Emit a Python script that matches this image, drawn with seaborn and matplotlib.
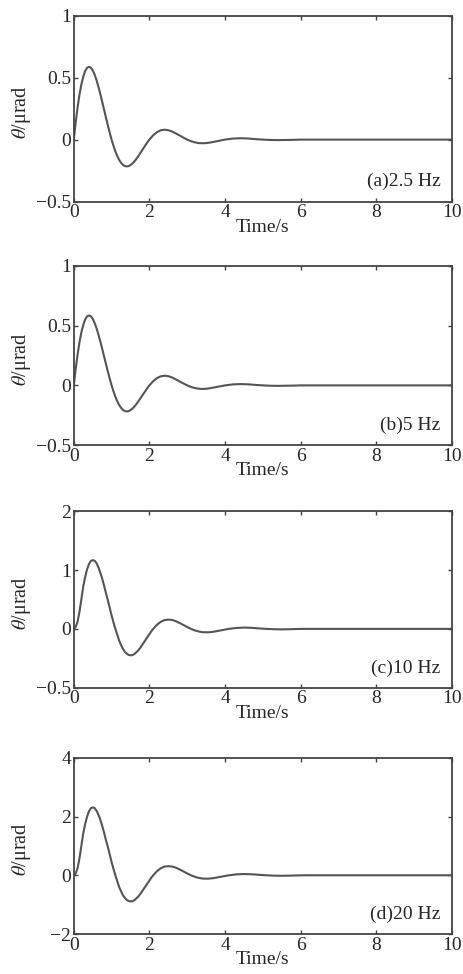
import matplotlib
matplotlib.use("Agg")
import matplotlib.pyplot as plt
import seaborn as sns

sns.set_style("ticks")
plt.rcParams['font.family'] = ['Liberation Serif', 'DejaVu Serif']
plt.rcParams['mathtext.fontset'] = 'stix'

# -------------------------------
# Data
# -------------------------------
# panels (a) and (b): fine steps over the first swing, coarser afterwards
t_ab = [0.0, 0.05, 0.1, 0.15, 0.2, 0.25, 0.3, 0.35, 0.4, 0.45,
        0.5, 0.55, 0.6, 0.65, 0.7, 0.75, 0.8, 0.85, 0.9, 0.95,
        1.0, 1.05, 1.1, 1.15, 1.2, 1.25, 1.3, 1.35, 1.4, 1.45,
        1.5, 1.55, 1.6, 1.65, 1.7, 1.75, 1.8, 1.85, 1.9, 1.95,
        2.0, 2.1, 2.2, 2.3, 2.4, 2.5, 2.6, 2.7, 2.8, 2.9,
        3.0, 3.1, 3.2, 3.3, 3.4, 3.5, 3.6, 3.7, 3.8, 3.9,
        4.0, 4.2, 4.4, 4.6, 4.8, 5.0, 5.2, 5.4, 5.6, 5.8,
        6.0, 7.0, 8.0, 9.0, 10.0]
theta_a = [0.0, 0.137, 0.258, 0.360, 0.444, 0.507, 0.552, 0.578, 0.587, 0.580,
           0.559, 0.525, 0.481, 0.428, 0.370, 0.307, 0.243, 0.179, 0.116, 0.056,
           0.0, -0.050, -0.095, -0.132, -0.163, -0.187, -0.203, -0.213, -0.216, -0.214,
           -0.205, -0.193, -0.177, -0.158, -0.136, -0.113, -0.089, -0.066, -0.043, -0.020,
           0.0, 0.035, 0.060, 0.075, 0.080, 0.076, 0.065, 0.050, 0.033, 0.016,
           0.0, -0.013, -0.022, -0.028, -0.029, -0.028, -0.024, -0.018, -0.012, -0.006,
           0.0, 0.008, 0.011, 0.009, 0.004, 0.0, -0.003, -0.004, -0.003, -0.002,
           0.0, 0.0, 0.0, 0.0, 0.0]
theta_b = [0.0, 0.136, 0.257, 0.359, 0.443, 0.506, 0.551, 0.577, 0.585, 0.579,
           0.558, 0.524, 0.480, 0.428, 0.370, 0.308, 0.244, 0.180, 0.117, 0.057,
           0.0, -0.050, -0.095, -0.133, -0.164, -0.188, -0.205, -0.215, -0.218, -0.216,
           -0.207, -0.194, -0.178, -0.159, -0.137, -0.114, -0.090, -0.067, -0.044, -0.021,
           0.0, 0.035, 0.061, 0.076, 0.081, 0.077, 0.066, 0.050, 0.033, 0.016,
           0.0, -0.013, -0.022, -0.028, -0.030, -0.028, -0.024, -0.018, -0.012, -0.006,
           0.0, 0.008, 0.011, 0.009, 0.004, 0.0, -0.003, -0.004, -0.003, -0.002,
           0.0, 0.0, 0.0, 0.0, 0.0]

# panels (c) and (d): response slightly delayed
t_cd = [0.0, 0.05, 0.1, 0.15, 0.2, 0.25, 0.3, 0.35, 0.4, 0.45,
        0.5, 0.55, 0.6, 0.65, 0.7, 0.75, 0.8, 0.85, 0.9, 0.95,
        1.0, 1.05, 1.1, 1.15, 1.2, 1.25, 1.3, 1.35, 1.4, 1.45,
        1.5, 1.55, 1.6, 1.65, 1.7, 1.75, 1.8, 1.85, 1.9, 1.95,
        2.0, 2.05, 2.1, 2.2, 2.3, 2.4, 2.5, 2.6, 2.7, 2.8,
        2.9, 3.0, 3.1, 3.2, 3.3, 3.4, 3.5, 3.6, 3.7, 3.8,
        3.9, 4.0, 4.1, 4.3, 4.5, 4.7, 4.9, 5.1, 5.3, 5.5,
        5.7, 5.9, 6.1, 7.0, 8.0, 9.0, 10.0]
theta_c = [0.0, 0.03, 0.12, 0.29, 0.50, 0.72, 0.88, 1.01, 1.10, 1.156,
           1.17, 1.16, 1.12, 1.05, 0.96, 0.86, 0.74, 0.61, 0.49, 0.36,
           0.23, 0.11, 0.0, -0.10, -0.20, -0.275, -0.34, -0.39, -0.42, -0.443,
           -0.45, -0.445, -0.43, -0.40, -0.37, -0.33, -0.28, -0.235, -0.185, -0.137,
           -0.09, -0.042, 0.0, 0.07, 0.12, 0.15, 0.158, 0.152, 0.13, 0.10,
           0.066, 0.032, 0.0, -0.026, -0.044, -0.056, -0.058, -0.056, -0.048, -0.036,
           -0.024, -0.012, 0.0, 0.016, 0.022, 0.018, 0.008, 0.0, -0.006, -0.008,
           -0.006, -0.002, 0.0, 0.0, 0.0, 0.0, 0.0]
theta_d = [0.0, 0.06, 0.24, 0.57, 1.00, 1.42, 1.74, 1.99, 2.17, 2.28,
           2.31, 2.29, 2.20, 2.07, 1.90, 1.69, 1.46, 1.20, 0.97, 0.71,
           0.45, 0.22, 0.0, -0.20, -0.40, -0.54, -0.68, -0.77, -0.84, -0.87,
           -0.89, -0.88, -0.85, -0.79, -0.73, -0.65, -0.56, -0.46, -0.37, -0.27,
           -0.18, -0.08, 0.0, 0.14, 0.24, 0.30, 0.31, 0.30, 0.26, 0.20,
           0.13, 0.063, 0.0, -0.05, -0.087, -0.11, -0.115, -0.11, -0.095, -0.071,
           -0.047, -0.024, 0.0, 0.032, 0.043, 0.035, 0.016, 0.0, -0.012, -0.016,
           -0.012, -0.004, 0.0, 0.0, 0.0, 0.0, 0.0]

labels = ["(a)2.5 Hz", "(b)5 Hz", "(c)10 Hz", "(d)20 Hz"]
x_ticks = [0, 2, 4, 6, 8, 10]
# panel (c): the bottom tick sits one unit below 0 but is printed "-0.5"
y_ticks = [[-0.5, 0, 0.5, 1], [-0.5, 0, 0.5, 1], [-1, 0, 1, 2], [-2, 0, 2, 4]]
y_ticklabels = [["\u22120.5", "0", "0.5", "1"], ["\u22120.5", "0", "0.5", "1"],
                ["\u22120.5", "0", "1", "2"], ["\u22122", "0", "2", "4"]]

series = [(t_ab, theta_a), (t_ab, theta_b), (t_cd, theta_c), (t_cd, theta_d)]

# axes boxes in figure fraction [left, bottom, width, height]
boxes = [[0.159, 0.793, 0.815, 0.191],
         [0.159, 0.543, 0.815, 0.184],
         [0.159, 0.294, 0.815, 0.181],
         [0.159, 0.041, 0.815, 0.181]]

fig = plt.figure(figsize=(4.64, 9.74), dpi=100)
line_col = "#555555"
edge_col = "#444444"

for i in range(4):
    ax = fig.add_axes(boxes[i])
    t, th = series[i]
    sns.lineplot(x=t, y=th, ax=ax, color=line_col, linewidth=1.5)
    ax.set_xlim(0, 10)
    ax.set_ylim(y_ticks[i][0], y_ticks[i][-1])
    ax.set_xticks(x_ticks)
    ax.set_xticklabels([str(v) for v in x_ticks])
    ax.set_yticks(y_ticks[i])
    ax.set_yticklabels(y_ticklabels[i])
    ax.tick_params(direction="in", top=True, right=True, length=3,
                   width=1.0, color=edge_col, labelsize=14, pad=2)
    for s in ax.spines.values():
        s.set_color(edge_col)
        s.set_linewidth(1.3)
    ax.set_xlabel("Time/s", fontsize=14, labelpad=-2)
    ax.set_ylabel("$\\theta$/\u03bcrad", fontsize=14.5)
    ax.yaxis.set_label_coords(-0.108, 0.48)
    ax.text(0.97, 0.11, labels[i], transform=ax.transAxes,
            ha="right", va="center", fontsize=14)

plt.savefig("out.png", dpi=100)
